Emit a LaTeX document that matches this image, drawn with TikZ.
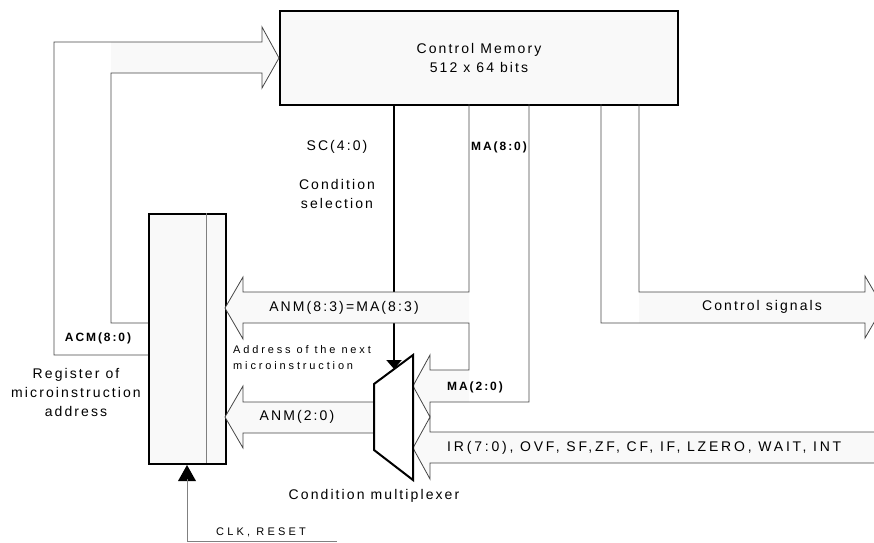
\documentclass[tikz,border=0pt]{standalone}
\usepackage{fontspec}
\setmainfont{Liberation Sans}
\newfontfamily\sigfont{Liberation Sans}[LetterSpace=15]
\newfontfamily\flagfont{Liberation Sans}[LetterSpace=20]
\newfontfamily\smallsigfont{Liberation Sans}[LetterSpace=26]
\newfontfamily\widesigfont{Liberation Sans}[LetterSpace=29]
\newfontfamily\boldsigfont{Liberation Sans}[LetterSpace=16]
\usetikzlibrary{arrows.meta,positioning}
\definecolor{busfill}{RGB}{249,249,249}
\definecolor{wire}{RGB}{70,70,70}

\begin{document}
\begin{tikzpicture}[x=1pt, y=-1pt,
  lbl/.style={font=\sigfont\fontsize{14}{19}\selectfont, inner sep=0pt, align=center},
  sml/.style={font=\smallsigfont\fontsize{11}{16}\selectfont, inner sep=0pt, align=left},
  bsig/.style={font=\boldsigfont\bfseries\fontsize{12}{14}\selectfont, inner sep=0pt},
  blk/.style={draw=black, line width=2pt, fill=busfill},
  bus/.style={draw=wire, line width=0.8pt},
]
\useasboundingbox (0,0) rectangle (874,542);

% blocks
\node[blk, minimum width=398pt, minimum height=94pt, anchor=north west] (mem) at (279,10) {};
\node[lbl] (memtxt) at (mem.center) {Control Memory\\512 x 64 bits};
\node[blk, minimum width=77pt, minimum height=250pt, anchor=north west] (reg) at (148,213) {};
\draw[gray, line width=0.6pt] (reg.north west) ++(58,0) -- ++(0,250);
\node[lbl] (regtxt) at (76,392) {Register of\\microinstruction\\address};

% condition selection SC(4:0)
\coordinate (scx) at (394,0);
\coordinate (muxsel) at (394,369);
\draw[line width=2pt, -{Triangle[width=15pt,length=9pt]}] (mem.south -| scx) -- (muxsel);
\node[lbl] (sc) at (337,147) {SC(4:0)};
\node[lbl] (cond) at (337,194) {Condition\\selection};

% feedback bus ACM(8:0)
\fill[busfill] (111,42) -- (262,42) -- (262,27) -- (mem.west) -- (262,88) -- (262,73) -- (111,73) -- cycle;
\draw[bus] (148,323) -- (111,323) -- (111,73) -- (262,73) -- (262,88) -- (mem.west)
  -- (262,27) -- (262,42) -- (54,42) -- (54,355) -- (148,355);
\node[bsig] (acm) at (98,338) {ACM(8:0)};

% MA(8:0) bus, split into ANM(8:3) and MA(2:0)
\fill[busfill] (469,292) -- (243,292) -- (243,277) -- (225,308) -- (243,339) -- (243,323) -- (469,323) -- cycle;
\fill[busfill] (469,370) -- (430,370) -- (430,355) -- (413,386) -- (430,417) -- (430,402) -- (469,402) -- cycle;
\draw[bus] (469,104) -- (469,292) -- (243,292) -- (243,277) -- (225,308) -- (243,339) -- (243,323)
  -- (469,323) -- (469,370) -- (430,370) -- (430,355) -- (413,386) -- (430,417) -- (430,402)
  -- (529,402) -- (529,104);
\node[bsig] (ma) at (499,147) {MA(8:0)};
\node[lbl] (anmhi) at (344,308) {ANM(8:3)=MA(8:3)};
\node[bsig] (malo) at (475,387) {MA(2:0)};
\node[sml, anchor=west] (nextaddr) at (233,358) {Address of the next\\microinstruction};

% mux output ANM(2:0)
\filldraw[bus, fill=busfill] (374,402) -- (243,402) -- (243,386) -- (225,417) -- (243,448) -- (243,433) -- (374,433);
\node[lbl] (anmlo) at (297,417) {ANM(2:0)};

% flags bus
\filldraw[bus, fill=busfill] (880,432) -- (430,432) -- (430,417) -- (413,448) -- (430,479) -- (430,463) -- (880,463);
\node[lbl, font=\flagfont\fontsize{14}{19}\selectfont, anchor=west] (flags) at (447,448) {IR(7:0), OVF, SF,ZF, CF, IF, LZERO, WAIT, INT};

% condition multiplexer
\draw[blk, fill=white] (374,384) -- (413,355) -- (413,480) -- (374,450) -- cycle;
\node[lbl] (muxtxt) at (374,496) {Condition multiplexer};

% control signals
\fill[busfill] (639,292) -- (865,292) -- (865,276) -- (883,307) -- (865,338) -- (865,323) -- (639,323) -- cycle;
\draw[bus] (601,104) -- (601,323) -- (865,323) -- (865,338) -- (883,307) -- (865,276) -- (865,292) -- (639,292) -- (639,104);
\node[lbl] (ctrl) at (762,307) {Control signals};

% clock
\fill (reg.south -| 187,0) -- ++(-9,16) -- ++(18,0) -- cycle;
\draw[gray, line width=0.6pt] (187,479) -- (187,541) -- (337,541);
\node[font=\widesigfont\fontsize{11}{13}\selectfont, inner sep=0pt] (clk) at (261,532) {CLK, RESET};
\end{tikzpicture}
\end{document}
